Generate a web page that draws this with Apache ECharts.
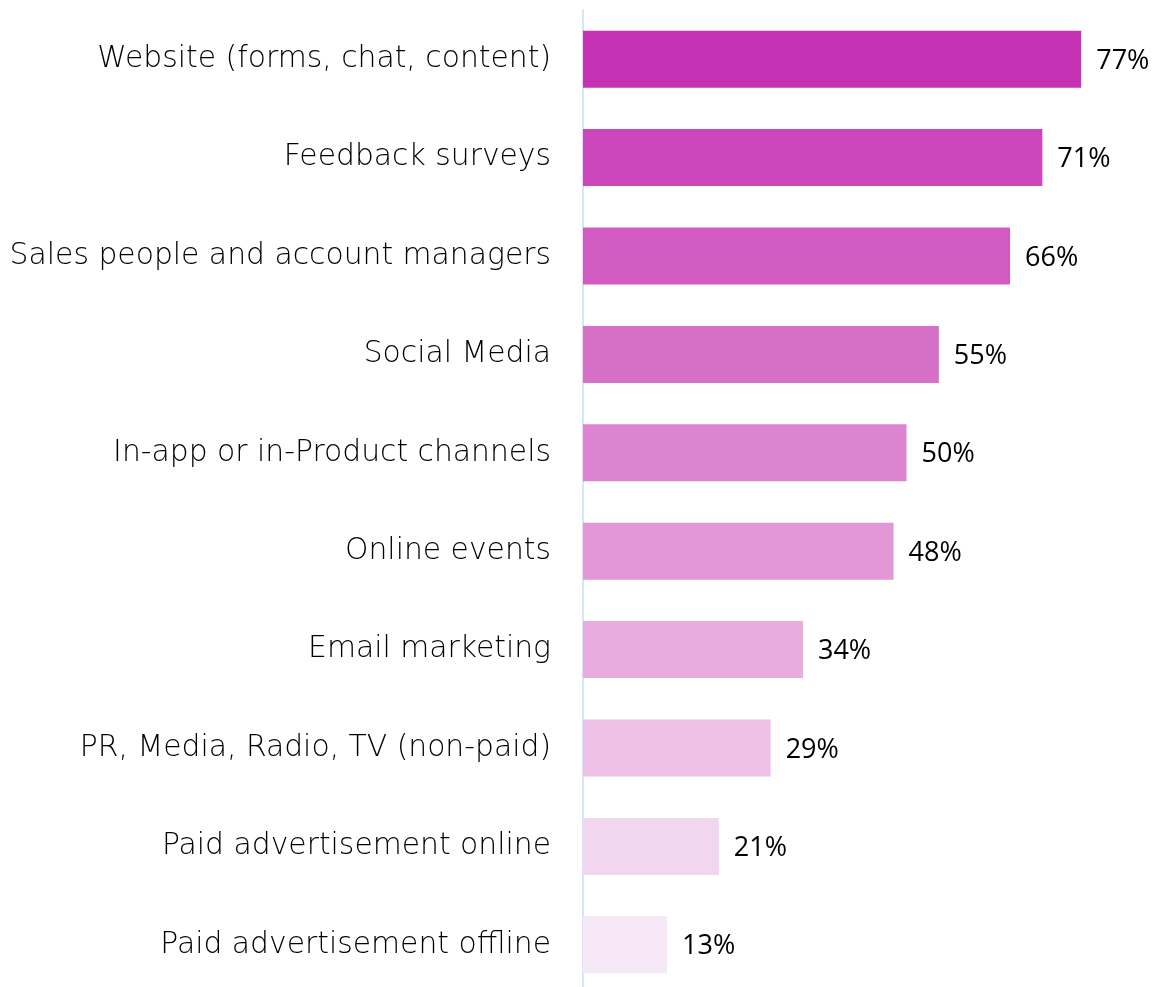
<!DOCTYPE html>
<html>
<head>
<meta charset="utf-8">
<script src="https://cdn.jsdelivr.net/npm/echarts@6/dist/echarts.min.js"></script>
<style>
  html, body { margin: 0; padding: 0; background: #ffffff; }
  #chart { width: 1157px; height: 987px; }
</style>
</head>
<body>
<div id="chart"></div>
<script>
// Channels, listed top to bottom
const categories = [
  'Website (forms, chat, content)',
  'Feedback surveys',
  'Sales people and account managers',
  'Social Media',
  'In-app or in-Product channels',
  'Online events',
  'Email marketing',
  'PR, Media, Radio, TV (non-paid)',
  'Paid advertisement online',
  'Paid advertisement offline'
];
// Share of respondents, percent
const values = [77, 71, 66, 55, 50, 48, 34, 29, 21, 13];
// One shade per bar, dark to light
const barColors = [
  '#C532B4', '#CB46BA', '#D15BC0', '#D670C7', '#DC84CF',
  '#E297D6', '#E8ACDF', '#EDC0E7', '#F2D5EF', '#F6E8F6'
];

const chart = echarts.init(document.getElementById('chart'), null, { renderer: 'canvas' });

const labelFont = '"DejaVu Sans", sans-serif';
const valueFont = '"Open Sans", sans-serif';

chart.setOption({
  animation: false,
  grid: {
    left: 583, top: 10, width: 647, height: 984,
    containLabel: false,
    outerBoundsMode: 'none'
  },
  xAxis: {
    type: 'value',
    min: 0,
    max: 100,
    show: false
  },
  yAxis: {
    type: 'category',
    inverse: true,
    data: categories,
    axisLine: { show: true, lineStyle: { color: '#CDE9FB', width: 2 } },
    axisTick: { show: false },
    splitLine: { show: false },
    axisLabel: {
      margin: 32,
      color: '#000000',
      fontSize: 29.8,
      fontWeight: 200,
      fontFamily: labelFont
    }
  },
  series: [{
    type: 'bar',
    data: values.map((v, i) => ({ value: v, itemStyle: { color: barColors[i] } })),
    barWidth: 57,
    label: {
      show: true,
      position: 'right',
      distance: 15,
      offset: [0, 2],
      formatter: '{c}%',
      color: '#000000',
      fontSize: 27,
      fontFamily: valueFont
    }
  }]
});
</script>
</body>
</html>
